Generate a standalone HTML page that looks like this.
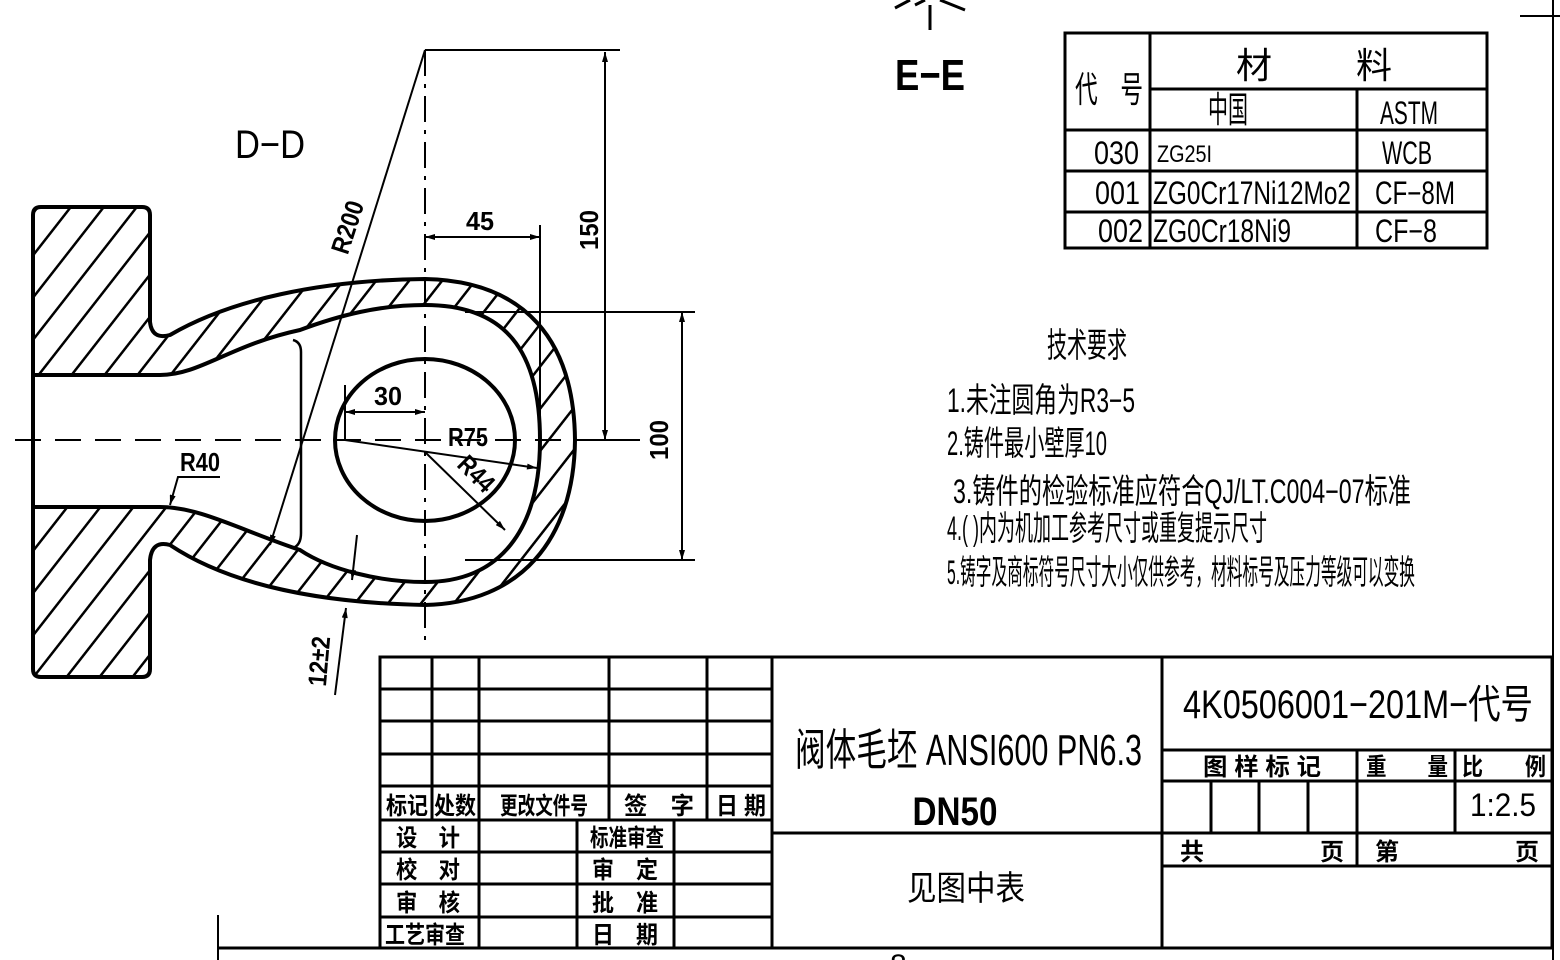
<!DOCTYPE html>
<html><head><meta charset="utf-8"><style>
html,body{margin:0;padding:0;background:#fff;}
svg{display:block;}
text{font-family:"Liberation Sans Narrow","Liberation Sans","Noto Sans CJK SC",sans-serif;fill:#000;}
.b{font-weight:bold;}
</style></head><body>
<svg width="1560" height="960" viewBox="0 0 1560 960" xmlns="http://www.w3.org/2000/svg">
<defs>
<pattern id="h" patternUnits="userSpaceOnUse" width="26" height="26" patternTransform="rotate(38)">
<rect width="26" height="26" fill="#fff"/>
<line x1="0" y1="0" x2="0" y2="26" stroke="#000" stroke-width="5"/>
</pattern>
<marker id="a" viewBox="0 0 10 6" refX="10" refY="3" markerWidth="14" markerHeight="6" markerUnits="userSpaceOnUse" orient="auto-start-reverse"><path d="M0,0 L10,3 L0,6 Z" fill="#000"/></marker>
</defs>

<line x1="1553" y1="0" x2="1553" y2="960" stroke="#000" stroke-width="2"/>
<line x1="1520" y1="16" x2="1560" y2="16" stroke="#000" stroke-width="2"/>
<line x1="218" y1="915" x2="218" y2="960" stroke="#000" stroke-width="2"/>
<line x1="218" y1="948" x2="1553" y2="948" stroke="#000" stroke-width="3"/>
<line x1="930" y1="5" x2="930" y2="30" stroke="#000" stroke-width="3"/>
<path d="M895,8 L910,0 M915,5 L925,0 M940,0 L965,10" stroke="#000" stroke-width="3" fill="none"/>

<path fill="url(#h)" fill-rule="evenodd" stroke="#000" stroke-width="4" d="
M33,215 Q33,207 41,207 L142,207 Q150,207 150,215 L150,322 Q152,340 170,335 C230,300 320,280 425,279 C525,281 574,340 575,440 C574,540 520,603 425,605 C320,603 230,585 170,545 Q152,540 150,560 L150,669 Q150,677 142,677 L41,677 Q33,677 33,669 Z
M33,375 L160,375 C200,375 230,345 300,330 C340,315 380,305 425,305 C505,305 540,350 540,440 C540,530 500,582 425,582 C380,582 330,570 300,550 C240,530 200,507 160,507 L33,507 Z"/>
<ellipse cx="425" cy="440" rx="90" ry="81" fill="#fff" stroke="#000" stroke-width="4"/>
<path d="M293,340 Q301,342 301,352 L301,533 Q301,545 293,548" fill="none" stroke="#000" stroke-width="2.5"/>

<line x1="15" y1="440" x2="640" y2="440" stroke="#000" stroke-width="2" stroke-dasharray="26,14"/>
<line x1="425" y1="50" x2="425" y2="640" stroke="#000" stroke-width="2" stroke-dasharray="26,8,4,8"/>

<g stroke="#000" stroke-width="2" fill="none">
<line x1="425" y1="50" x2="620" y2="50"/>
<line x1="605" y1="52" x2="605" y2="440" marker-start="url(#a)" marker-end="url(#a)"/>
<line x1="590" y1="440" x2="640" y2="440"/>
<line x1="425" y1="50" x2="270" y2="545" marker-end="url(#a)"/>
<line x1="540" y1="225" x2="540" y2="440"/>
<line x1="425" y1="237" x2="540" y2="237" marker-start="url(#a)" marker-end="url(#a)"/>
<line x1="465" y1="312" x2="695" y2="312"/>
<line x1="465" y1="560" x2="695" y2="560"/>
<line x1="682" y1="312" x2="682" y2="560" marker-start="url(#a)" marker-end="url(#a)"/>
<line x1="345" y1="385" x2="345" y2="440"/>
<line x1="345" y1="412" x2="425" y2="412" marker-start="url(#a)" marker-end="url(#a)"/>
<line x1="345" y1="440" x2="537" y2="468" marker-end="url(#a)"/>
<line x1="425" y1="452" x2="505" y2="530" marker-end="url(#a)"/>
<polyline points="220,477 178,477 170,505" marker-end="url(#a)"/>
<line x1="357" y1="535" x2="352" y2="580" marker-end="url(#a)"/>
<line x1="335" y1="695" x2="346" y2="608" marker-end="url(#a)"/>
</g>
<g class="b" font-size="26">
<text x="480" y="230" text-anchor="middle" textLength="28" lengthAdjust="spacingAndGlyphs">45</text>
<text x="388" y="405" text-anchor="middle" textLength="28" lengthAdjust="spacingAndGlyphs">30</text>
<text x="468" y="446" text-anchor="middle" textLength="40" lengthAdjust="spacingAndGlyphs">R75</text>
<text x="200" y="471" text-anchor="middle" textLength="40" lengthAdjust="spacingAndGlyphs">R40</text>
<text transform="translate(598,230) rotate(-90)" text-anchor="middle" textLength="40" lengthAdjust="spacingAndGlyphs">150</text>
<text transform="translate(668,440) rotate(-90)" text-anchor="middle" textLength="40" lengthAdjust="spacingAndGlyphs">100</text>
<text transform="translate(356,230) rotate(-72)" text-anchor="middle" textLength="54" lengthAdjust="spacingAndGlyphs">R200</text>
<text transform="translate(470,480) rotate(45)" text-anchor="middle" textLength="40" lengthAdjust="spacingAndGlyphs">R44</text>
<text transform="translate(328,662) rotate(-85)" text-anchor="middle" textLength="50" lengthAdjust="spacingAndGlyphs">12±2</text>
</g>
<text x="270" y="158" font-size="40" text-anchor="middle" textLength="70" lengthAdjust="spacingAndGlyphs">D−D</text>
<text x="930" y="90" font-size="44" class="b" text-anchor="middle" textLength="70" lengthAdjust="spacingAndGlyphs">E−E</text>

<g stroke="#000" stroke-width="3" fill="none">
<rect x="1065" y="33" width="422" height="215"/>
<line x1="1150" y1="33" x2="1150" y2="248"/>
<line x1="1150" y1="89" x2="1487" y2="89"/>
<line x1="1357" y1="89" x2="1357" y2="248"/>
<line x1="1065" y1="130" x2="1487" y2="130"/>
<line x1="1065" y1="171" x2="1487" y2="171"/>
<line x1="1065" y1="212" x2="1487" y2="212"/>
</g>
<g font-size="32">
<text x="1075" y="102" font-size="36" textLength="68" lengthAdjust="spacingAndGlyphs">代　号</text>
<text x="1236" y="78" font-size="36">材</text>
<text x="1356" y="78" font-size="36">料</text>
<text x="1208" y="122" font-size="36" textLength="40" lengthAdjust="spacingAndGlyphs">中国</text>
<text x="1380" y="124" textLength="58" lengthAdjust="spacingAndGlyphs">ASTM</text>
<text x="1094" y="164" textLength="45" lengthAdjust="spacingAndGlyphs">030</text>
<text x="1157" y="162" font-size="24" textLength="55" lengthAdjust="spacingAndGlyphs">ZG25I</text>
<text x="1382" y="164" textLength="50" lengthAdjust="spacingAndGlyphs">WCB</text>
<text x="1095" y="204" textLength="45" lengthAdjust="spacingAndGlyphs">001</text>
<text x="1153" y="204" textLength="198" lengthAdjust="spacingAndGlyphs">ZG0Cr17Ni12Mo2</text>
<text x="1375" y="204" textLength="80" lengthAdjust="spacingAndGlyphs">CF−8M</text>
<text x="1098" y="242" textLength="45" lengthAdjust="spacingAndGlyphs">002</text>
<text x="1153" y="242" textLength="138" lengthAdjust="spacingAndGlyphs">ZG0Cr18Ni9</text>
<text x="1375" y="242" textLength="62" lengthAdjust="spacingAndGlyphs">CF−8</text>
</g>

<g font-size="34">
<text x="1047" y="357" textLength="80" lengthAdjust="spacingAndGlyphs">技术要求</text>
<text x="947" y="412" textLength="188" lengthAdjust="spacingAndGlyphs">1.未注圆角为R3−5</text>
<text x="947" y="455" textLength="160" lengthAdjust="spacingAndGlyphs">2.铸件最小壁厚10</text>
<text x="953" y="503" textLength="458" lengthAdjust="spacingAndGlyphs">3.铸件的检验标准应符合QJ/LT.C004−07标准</text>
<text x="947" y="540" textLength="320" lengthAdjust="spacingAndGlyphs">4.( )内为机加工参考尺寸或重复提示尺寸</text>
<text x="947" y="584" textLength="468" lengthAdjust="spacingAndGlyphs">5.铸字及商标符号尺寸大小仅供参考，材料标号及压力等级可以变换</text>
</g>

<g stroke="#000" stroke-width="3" fill="none">
<rect x="380" y="657" width="1172" height="291"/>
<line x1="772" y1="657" x2="772" y2="948"/>
<line x1="1162" y1="657" x2="1162" y2="948"/>
<line x1="380" y1="689" x2="772" y2="689"/>
<line x1="380" y1="721" x2="772" y2="721"/>
<line x1="380" y1="754" x2="772" y2="754"/>
<line x1="380" y1="786" x2="772" y2="786"/>
<line x1="380" y1="820" x2="772" y2="820"/>
<line x1="380" y1="852" x2="772" y2="852"/>
<line x1="380" y1="884" x2="772" y2="884"/>
<line x1="380" y1="917" x2="772" y2="917"/>
<line x1="432" y1="657" x2="432" y2="820"/>
<line x1="479" y1="657" x2="479" y2="948"/>
<line x1="609" y1="657" x2="609" y2="820"/>
<line x1="707" y1="657" x2="707" y2="820"/>
<line x1="577" y1="820" x2="577" y2="948"/>
<line x1="674" y1="820" x2="674" y2="948"/>
<line x1="772" y1="833" x2="1162" y2="833"/>
<line x1="1162" y1="750" x2="1552" y2="750"/>
<line x1="1162" y1="781" x2="1552" y2="781"/>
<line x1="1162" y1="833" x2="1552" y2="833"/>
<line x1="1162" y1="866" x2="1552" y2="866"/>
<line x1="1357" y1="750" x2="1357" y2="866"/>
<line x1="1455" y1="750" x2="1455" y2="833"/>
<line x1="1211" y1="781" x2="1211" y2="833"/>
<line x1="1259" y1="781" x2="1259" y2="833"/>
<line x1="1308" y1="781" x2="1308" y2="833"/>
</g>
<g font-size="24" class="b">
<text x="386" y="814" textLength="42" lengthAdjust="spacingAndGlyphs">标记</text>
<text x="434" y="814" textLength="42" lengthAdjust="spacingAndGlyphs">处数</text>
<text x="500" y="814" textLength="88" lengthAdjust="spacingAndGlyphs">更改文件号</text>
<text x="624" y="814" textLength="70" lengthAdjust="spacingAndGlyphs">签　字</text>
<text x="716" y="814" textLength="50" lengthAdjust="spacingAndGlyphs">日 期</text>
<text x="396" y="846" textLength="64" lengthAdjust="spacingAndGlyphs">设　计</text>
<text x="396" y="878" textLength="64" lengthAdjust="spacingAndGlyphs">校　对</text>
<text x="396" y="911" textLength="64" lengthAdjust="spacingAndGlyphs">审　核</text>
<text x="385" y="943" textLength="80" lengthAdjust="spacingAndGlyphs">工艺审查</text>
<text x="590" y="846" textLength="74" lengthAdjust="spacingAndGlyphs">标准审查</text>
<text x="592" y="878" textLength="66" lengthAdjust="spacingAndGlyphs">审　定</text>
<text x="592" y="911" textLength="66" lengthAdjust="spacingAndGlyphs">批　准</text>
<text x="592" y="943" textLength="66" lengthAdjust="spacingAndGlyphs">日　期</text>
<text x="1203" y="775" textLength="118" lengthAdjust="spacingAndGlyphs">图 样 标 记</text>
<text x="1366" y="775" textLength="82" lengthAdjust="spacingAndGlyphs">重　　量</text>
<text x="1462" y="775" textLength="84" lengthAdjust="spacingAndGlyphs">比　　例</text>
<text x="1180" y="860" font-size="24">共</text>
<text x="1320" y="860" font-size="24">页</text>
<text x="1375" y="860" font-size="24">第</text>
<text x="1515" y="860" font-size="24">页</text>
</g>
<text x="795" y="765" font-size="44" textLength="347" lengthAdjust="spacingAndGlyphs">阀体毛坯 ANSI600 PN6.3</text>
<text x="955" y="825" font-size="40" class="b" text-anchor="middle" textLength="85" lengthAdjust="spacingAndGlyphs">DN50</text>
<text x="907" y="900" font-size="34" textLength="118" lengthAdjust="spacingAndGlyphs">见图中表</text>
<text x="1183" y="718" font-size="40" textLength="350" lengthAdjust="spacingAndGlyphs">4K0506001−201M−代号</text>
<text x="1470" y="816" font-size="32" textLength="66" lengthAdjust="spacingAndGlyphs">1:2.5</text>
<text x="890" y="975" font-size="30">8</text>
</svg>
</body></html>
